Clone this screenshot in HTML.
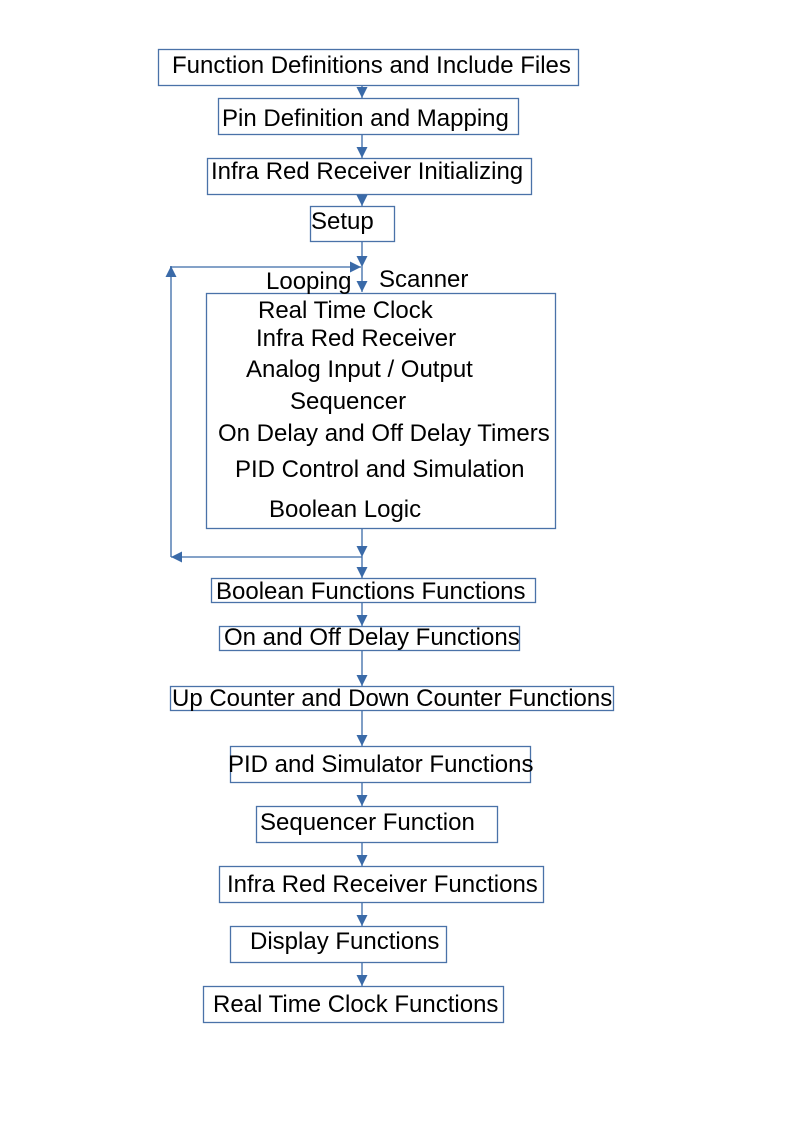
<!DOCTYPE html>
<html><head><meta charset="utf-8"><style>html,body{margin:0;padding:0;background:#fff}svg{display:block}text{font-family:"Liberation Sans",Arial,sans-serif;font-size:24px;fill:#000}</style></head>
<body>
<svg width="794" height="1123" viewBox="0 0 794 1123" xmlns="http://www.w3.org/2000/svg">
<defs><marker id="a" viewBox="0 0 10 10" refX="10" refY="5" markerWidth="11" markerHeight="11" markerUnits="userSpaceOnUse" orient="auto"><path d="M0,0 L10,5 L0,10 z" fill="#3a6aa8"/></marker></defs>
<g fill="none" stroke="#4a72a8" stroke-width="1.3">
<rect x="158.5" y="49.5" width="420" height="36"/>
<rect x="218.5" y="98.5" width="300" height="36"/>
<rect x="207.5" y="158.5" width="324" height="36"/>
<rect x="310.5" y="206.5" width="84" height="35"/>
<rect x="206.5" y="293.5" width="349" height="235"/>
<rect x="211.5" y="578.5" width="324" height="24"/>
<rect x="219.5" y="626.5" width="300" height="24"/>
<rect x="170.5" y="686.5" width="443" height="24"/>
<rect x="230.5" y="746.5" width="300" height="36"/>
<rect x="256.5" y="806.5" width="241" height="36"/>
<rect x="219.5" y="866.5" width="324" height="36"/>
<rect x="230.5" y="926.5" width="216" height="36"/>
<rect x="203.5" y="986.5" width="300" height="36"/>
</g>
<g fill="none" stroke="#3a6aa8" stroke-width="1.3" marker-end="url(#a)">
<line x1="362" y1="86" x2="362" y2="98"/>
<line x1="362" y1="135" x2="362" y2="158"/>
<line x1="362" y1="195" x2="362" y2="206"/>
<line x1="362" y1="242" x2="362" y2="267"/>
<line x1="362" y1="267" x2="362" y2="292"/>
<line x1="170" y1="267" x2="361" y2="267"/>
<line x1="171" y1="557" x2="171" y2="266"/>
<line x1="362" y1="529" x2="362" y2="557"/>
<line x1="362" y1="557" x2="171" y2="557"/>
<line x1="362" y1="557" x2="362" y2="578"/>
<line x1="362" y1="603" x2="362" y2="626"/>
<line x1="362" y1="651" x2="362" y2="686"/>
<line x1="362" y1="711" x2="362" y2="746"/>
<line x1="362" y1="783" x2="362" y2="806"/>
<line x1="362" y1="843" x2="362" y2="866"/>
<line x1="362" y1="903" x2="362" y2="926"/>
<line x1="362" y1="963" x2="362" y2="986"/>
</g>
<text x="172" y="73">Function Definitions and Include Files</text>
<text x="222" y="126">Pin Definition and Mapping</text>
<text x="211" y="179">Infra Red Receiver Initializing</text>
<text x="311" y="229">Setup</text>
<text x="266" y="289">Looping</text>
<text x="379" y="287">Scanner</text>
<text x="258" y="318">Real Time Clock</text>
<text x="256" y="346">Infra Red Receiver</text>
<text x="246" y="377">Analog Input / Output</text>
<text x="290" y="409">Sequencer</text>
<text x="218" y="441">On Delay and Off Delay Timers</text>
<text x="235" y="477">PID Control and Simulation</text>
<text x="269" y="517">Boolean Logic</text>
<text x="216" y="599">Boolean Functions Functions</text>
<text x="224" y="645">On and Off Delay Functions</text>
<text x="172" y="706">Up Counter and Down Counter Functions</text>
<text x="228" y="772">PID and Simulator Functions</text>
<text x="260" y="830">Sequencer Function</text>
<text x="227" y="892">Infra Red Receiver Functions</text>
<text x="250" y="949">Display Functions</text>
<text x="213" y="1012">Real Time Clock Functions</text>
</svg>
</body></html>
